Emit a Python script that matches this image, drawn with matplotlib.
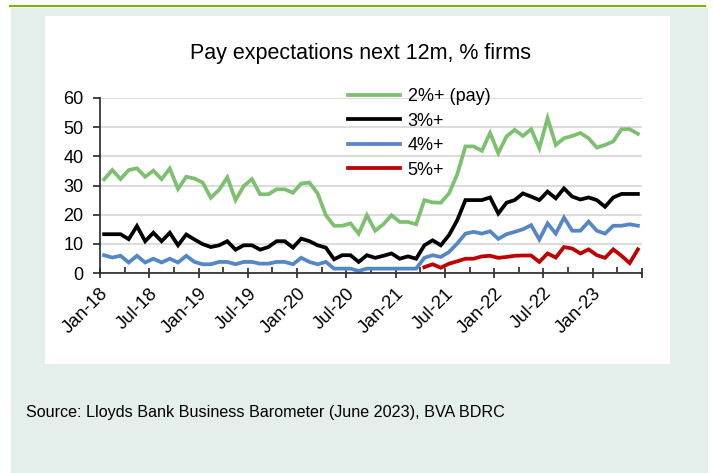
import numpy as np
import matplotlib
matplotlib.use("Agg")
import matplotlib.pyplot as plt
from matplotlib.patches import Rectangle
from matplotlib.ticker import MultipleLocator, FixedLocator

plt.rcParams['font.family'] = ['Liberation Sans', 'DejaVu Sans']

# ---- data (monthly, Jan-18 .. Jun-23) ----
title = "Pay expectations next 12m, % firms"
source = "Source: Lloyds Bank Business Barometer (June 2023), BVA BDRC"
series_names = ["2%+ (pay)", "3%+", "4%+", "5%+"]
tick_labels = ["Jan-18", "Jul-18", "Jan-19", "Jul-19", "Jan-20", "Jul-20",
               "Jan-21", "Jul-21", "Jan-22", "Jul-22", "Jan-23", ""]

pay2 = [32.1, 35.3, 32.2, 35.3, 35.9, 33, 35.1, 32.2, 35.8, 28.8, 33, 32.4,
        31, 25.8, 28.5, 32.8, 25, 29.8, 32.2, 27, 27, 28.7, 28.7, 27.5,
        30.7, 31, 27.3, 19.8, 16.2, 16.2, 17, 13.5, 19.8, 14.5, 16.7, 19.8,
        17.5, 17.5, 16.7, 25, 24.2, 24.1, 27.3, 33.8, 43.4, 43.4, 41.9, 48,
        41.1, 46.8, 49.1, 47, 49.3, 42.8, 53.1, 43.9, 46.2, 47, 48, 46.2,
        43, 43.9, 45.1, 49.3, 49.3, 47.7]
pay3 = [13.3, 13.3, 13.3, 11.6, 16.1, 10.9, 13.8, 10.9, 13.8, 9.5, 13.2, 11.5,
        9.9, 8.9, 9.5, 10.9, 8, 9.5, 9.5, 8, 8.9, 10.9, 10.9, 8.7,
        11.8, 10.9, 9.5, 8.7, 4.7, 6.1, 6.1, 3.8, 6.1, 5.2, 5.9, 6.7,
        4.9, 5.7, 4.9, 9.5, 11.2, 9.5, 13, 18.1, 25, 25, 25, 25.9,
        20.4, 24.1, 25, 27.3, 26.2, 25, 27.9, 25.6, 29, 26.2, 25.2, 25.9,
        25, 22.7, 25.9, 27.1, 27.1, 27.1]
pay4 = [6.1, 5.3, 5.9, 3.6, 5.9, 3.6, 4.9, 3.6, 4.9, 3.6, 5.9, 3.8,
        3, 3, 3.8, 3.8, 3, 3.8, 3.8, 3.2, 3.2, 3.8, 3.8, 3,
        5.2, 3.8, 3, 3.8, 1.5, 1.5, 1.5, 0.7, 1.5, 1.5, 1.5, 1.5,
        1.5, 1.5, 1.5, 5.2, 6.1, 5.5, 7.2, 10.1, 13.5, 14.1, 13.5, 14.3,
        11.7, 13.3, 14.1, 15, 16.4, 11.5, 17, 13.5, 19, 14.5, 14.5, 17.6,
        14.5, 13.5, 16.2, 16.2, 16.7, 16.2]
pay5_start = 39  # Apr-21
pay5 = [2, 3, 1.8, 3.2, 4, 4.9, 4.9, 5.7, 5.9,
        5.2, 5.5, 5.9, 6, 6, 3.8, 6.7, 5.3, 8.9, 8.4, 6.7, 8.1,
        6.1, 5.2, 8.1, 5.9, 3.4, 8.1]

colors = ["#7cc070", "#000000", "#5586c6", "#c00000"]

W, H = 713, 473
fig = plt.figure(figsize=(W / 100, H / 100), dpi=100, facecolor="white")

def fx(x):
    return x / W

def fy(y):
    return 1 - y / H

# backgrounds
fig.patches.append(Rectangle((fx(11), 0), fx(708) - fx(11), fy(8) - 0,
                             transform=fig.transFigure, facecolor="#e4eeea",
                             edgecolor="none", zorder=-3))
fig.patches.append(Rectangle((fx(9), fy(7)), fx(706) - fx(9), 2.2 / H,
                             transform=fig.transFigure, facecolor="#78b800",
                             edgecolor="none", zorder=-2))
fig.patches.append(Rectangle((fx(45), fy(364)), fx(670) - fx(45), fy(16) - fy(364),
                             transform=fig.transFigure, facecolor="white",
                             edgecolor="none", zorder=-1))

ax = fig.add_axes([fx(100), fy(273), fx(642) - fx(100), fy(98) - fy(273)])
ax.set_facecolor("none")

n = len(pay2)
x = np.arange(n) + 0.5
x5 = np.arange(pay5_start, pay5_start + len(pay5)) + 0.5
lw = 2.7
ax.plot(x, pay2, color=colors[0], lw=lw, label=series_names[0], solid_joinstyle="miter")
ax.plot(x, pay3, color=colors[1], lw=lw, label=series_names[1], solid_joinstyle="miter")
ax.plot(x, pay4, color=colors[2], lw=lw, label=series_names[2], solid_joinstyle="miter")
ax.plot(x5, pay5, color=colors[3], lw=lw, label=series_names[3], solid_joinstyle="miter")

ax.set_xlim(0, 66)
ax.set_ylim(0, 60)
ax.yaxis.set_major_locator(MultipleLocator(10))
ax.grid(axis="y", color="#d9d9d9", lw=1.3)
ax.set_axisbelow(True)

ax.xaxis.set_major_locator(FixedLocator(np.arange(0, 67, 6)))
ax.xaxis.set_minor_locator(FixedLocator(np.arange(3, 66, 6)))
ax.set_xticklabels(tick_labels, rotation=45, ha="right", va="top",
                   rotation_mode="anchor", fontsize=13.3)
ax.tick_params(axis="x", which="major", direction="inout", length=7, width=1.2,
               color="#262626", pad=5)
ax.tick_params(axis="x", which="minor", direction="in", length=4, width=1.2,
               color="#262626")
ax.tick_params(axis="y", which="major", direction="out", length=5, width=1.2,
               color="#262626", labelsize=13, pad=7)
for s in ["top", "right"]:
    ax.spines[s].set_visible(False)
for s in ["left", "bottom"]:
    ax.spines[s].set_color("#262626")
    ax.spines[s].set_linewidth(1.2)

fig.text(fx(360), fy(54), title, ha="center", va="center", fontsize=15.5)

leg = fig.legend(loc="upper left", bbox_to_anchor=(fx(348), fy(88)),
                 frameon=False, fontsize=13, handlelength=2.9,
                 handletextpad=0.4, labelspacing=0.42, borderpad=0,
                 borderaxespad=0)

fig.text(fx(26), fy(412), source, ha="left", va="center", fontsize=11.6)

fig.savefig("out.png", dpi=100, facecolor="white")
